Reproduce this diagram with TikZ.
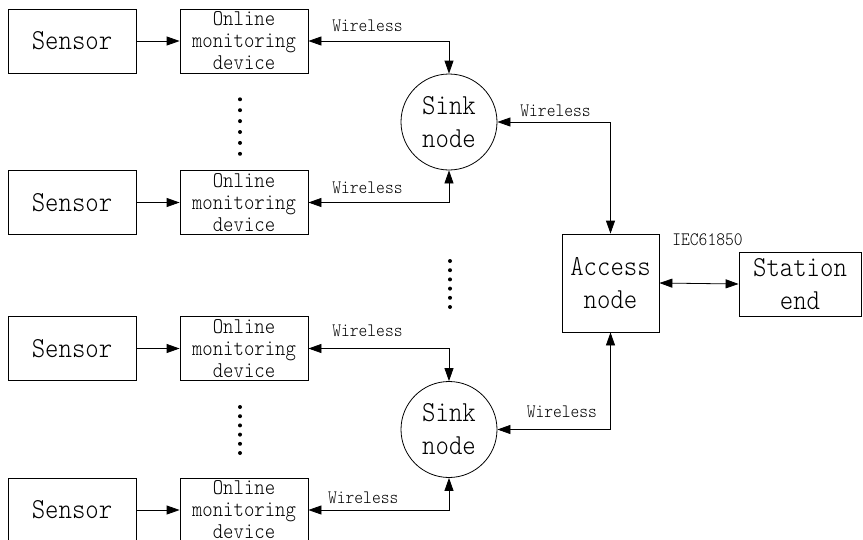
\documentclass[tikz,border=0pt]{standalone}
\usepackage{fontspec}
\newfontfamily\diagfont[FakeStretch=0.88]{lmmonolt10-regular.otf}
\usetikzlibrary{arrows.meta,positioning}

\tikzset{
    box/.style={draw, line width=0.8pt, minimum width=128pt, minimum height=64pt, inner sep=0pt, align=center},
    bigtxt/.style={font=\diagfont\fontsize{29}{33}\selectfont},
    midtxt/.style={font=\diagfont\fontsize{22.5}{22}\selectfont},
    lbl/.style={font=\diagfont\fontsize{19}{20}\selectfont, inner sep=0pt},
    sink/.style={draw, circle, line width=0.8pt, minimum size=96pt, inner sep=0pt, align=center, bigtxt},
    feed/.style={line width=0.8pt, -{Triangle[length=13pt,width=9pt]}},
    link/.style={line width=0.8pt, {Triangle[length=13pt,width=9pt]}-{Triangle[length=13pt,width=9pt]}},
}

\begin{document}
\begin{tikzpicture}[x=1pt, y=-1pt]
    \useasboundingbox (0,0) rectangle (863,539);

    % Sensors and monitoring devices
    \foreach \i/\y in {1/41, 2/202.5, 3/348.5, 4/510}{
        \node[box, bigtxt] (sen\i) at (72,\y) {Sensor};
        \node[box, midtxt] (dev\i) at (244,\y) {Online\\monitoring\\device};
        \draw[feed] (sen\i.east) -- (dev\i.west);
    }

    % Sink nodes, access node, station
    \node[sink] (sink1) at (449,122) {Sink\\node};
    \node[sink] (sink2) at (449,429.5) {Sink\\node};
    \node[box, bigtxt, minimum width=97pt, minimum height=98pt] (acc) at (610.5,283) {Access\\node};
    \node[box, bigtxt, minimum width=122pt] (sta) at (800,284) {Station\\end};

    % Wireless links
    \draw[link] (dev1.east) -| node[lbl, above=9pt, pos=0.21] (w1) {Wireless} (sink1.north);
    \draw[link] (dev2.east) -| node[lbl, above=8pt, pos=0.21] (w2) {Wireless} (sink1.south);
    \draw[link] (dev3.east) -| node[lbl, above=11pt, pos=0.21] (w3) {Wireless} (sink2.north);
    \draw[link] (dev4.east) -| node[lbl, above=6pt, pos=0.195] (w4) {Wireless} (sink2.south);
    \draw[link] (sink1.east) -| node[lbl, above=5pt, pos=0.257] (w5) {Wireless} (acc.north);
    \draw[link] (sink2.east) -| node[lbl, above=11pt, pos=0.285] (w6) {Wireless} (acc.south);

    % IEC61850 link
    \draw[link] (acc.east) -- (sta.west);
    \node[lbl] (iec) at (707.5,240) {IEC61850};

    % Dots
    \foreach \k in {0,...,5}{
        \fill (240,99.3+10.9*\k) circle (2pt);
        \fill (450,261+9.2*\k) circle (2pt);
        \fill (240,407+9.2*\k) circle (2pt);
    }
\end{tikzpicture}
\end{document}
